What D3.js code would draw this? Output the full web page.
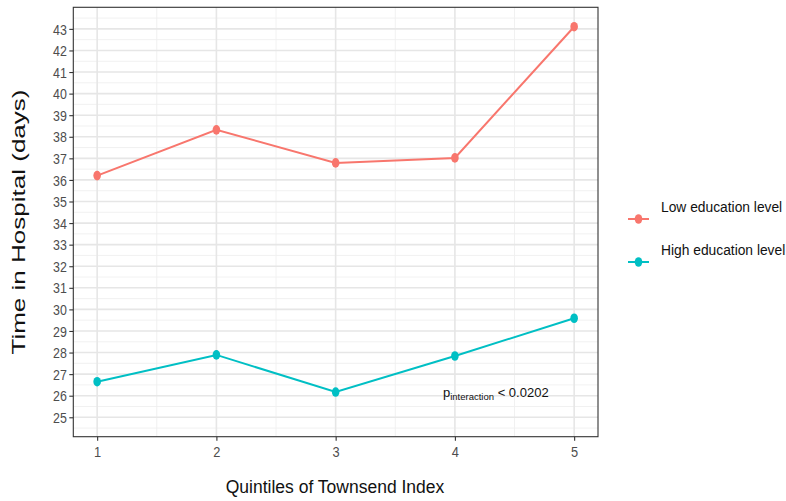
<!DOCTYPE html>
<html><head><meta charset="utf-8">
<script src="https://cdn.jsdelivr.net/npm/d3@7/dist/d3.min.js"></script>
<style>body{margin:0;background:#fff;} svg{display:block;font-family:"Liberation Sans",Arial,sans-serif;}</style>
</head><body>
<svg id="c" width="786" height="501"></svg>
<script>
const quintiles = [1, 2, 3, 4, 5];
const lowEducation = [36.2, 38.32, 36.79, 37.02, 43.1];
const highEducation = [26.65, 27.89, 26.17, 27.84, 29.59];
const seriesNames = ["Low education level", "High education level"];
const seriesColors = ["#F8766D", "#00BFC4"];
const yTicks = d3.range(25, 44);
const annotation = {main: "p", sub: "interaction", rest: " < 0.0202", x: 3.9, y: 25.95};

const svg = d3.select("#c");
const L = 73.3, R = 598, T = 7.3, B = 436.7;
const x = d3.scaleLinear().domain([0.8, 5.2]).range([L, R]);
const y = d3.scaleLinear().domain([24.1, 44.0]).range([B, T]);

const g = svg.append("g");
// minor grid
const minorY = d3.range(24.5, 44, 1);
g.selectAll(".my").data(minorY).join("line")
  .attr("x1", L).attr("x2", R).attr("y1", d => y(d)).attr("y2", d => y(d))
  .attr("stroke", "#efefef").attr("stroke-width", 0.9);
const minorX = [1.5, 2.5, 3.5, 4.5];
g.selectAll(".mx").data(minorX).join("line")
  .attr("y1", T).attr("y2", B).attr("x1", d => x(d)).attr("x2", d => x(d))
  .attr("stroke", "#efefef").attr("stroke-width", 0.9);
// major grid
g.selectAll(".gy").data(yTicks).join("line")
  .attr("x1", L).attr("x2", R).attr("y1", d => y(d)).attr("y2", d => y(d))
  .attr("stroke", "#e6e6e6").attr("stroke-width", 1.6);
g.selectAll(".gx").data(quintiles).join("line")
  .attr("y1", T).attr("y2", B).attr("x1", d => x(d)).attr("x2", d => x(d))
  .attr("stroke", "#e6e6e6").attr("stroke-width", 1.6);

// axes
const yAxis = svg.append("g").attr("transform", `translate(${L},0)`)
  .call(d3.axisLeft(y).tickValues(yTicks).tickSize(4).tickPadding(3).tickFormat(d3.format("d")));
const xAxis = svg.append("g").attr("transform", `translate(0,${B})`)
  .call(d3.axisBottom(x).tickValues(quintiles).tickSize(4).tickPadding(5).tickFormat(d3.format("d")));
[yAxis, xAxis].forEach(a => {
  a.select(".domain").remove();
  a.selectAll(".tick line").attr("stroke", "#333").attr("stroke-width", 1.1);
  a.selectAll(".tick text").attr("fill", "#4d4d4d").style("font-size", "13.5px")
    .style("font-family", "Liberation Sans, Arial, sans-serif");
});
yAxis.selectAll(".tick text").attr("dy", "0.36em").attr("transform", "scale(0.92,1.06)");
xAxis.selectAll(".tick text").attr("y", 8).attr("transform", "scale(0.95,1.15)");

// panel border
svg.append("rect").attr("x", L).attr("y", T).attr("width", R - L).attr("height", B - T)
  .attr("fill", "none").attr("stroke", "#333").attr("stroke-width", 1.1);

// series
const series = [lowEducation, highEducation];
const line = d3.line().x((d, i) => x(quintiles[i])).y(d => y(d));
series.forEach((vals, si) => {
  svg.append("path").datum(vals).attr("d", line).attr("fill", "none")
    .attr("stroke", seriesColors[si]).attr("stroke-width", 2);
  svg.selectAll(null).data(vals).join("ellipse")
    .attr("cx", (d, i) => x(quintiles[i])).attr("cy", d => y(d))
    .attr("rx", 3.8).attr("ry", 4.8).attr("fill", seriesColors[si]);
});

// annotation
const ann = svg.append("text").attr("x", x(annotation.x)).attr("y", y(annotation.y))
  .style("font-size", "13px").attr("fill", "#111");
ann.append("tspan").text(annotation.main);
ann.append("tspan").text(annotation.sub).style("font-size", "9.5px").attr("dy", 3);
ann.append("tspan").text(annotation.rest).attr("dy", -3);

// axis titles
svg.append("text").attr("x", 335).attr("y", 493).attr("text-anchor", "middle")
  .style("font-size", "17.5px").attr("fill", "#111").text("Quintiles of Townsend Index");
svg.append("text").attr("transform", "translate(25,222) rotate(-90)")
  .attr("text-anchor", "middle").style("font-size", "19px").attr("fill", "#111")
  .attr("textLength", 265).attr("lengthAdjust", "spacingAndGlyphs")
  .text("Time in Hospital (days)");

// legend
const legY = [219, 262];
seriesNames.forEach((n, i) => {
  const lg = svg.append("g");
  lg.append("line").attr("x1", 628).attr("x2", 649).attr("y1", legY[i]).attr("y2", legY[i])
    .attr("stroke", seriesColors[i]).attr("stroke-width", 2);
  lg.append("ellipse").attr("cx", 638.5).attr("cy", legY[i]).attr("rx", 3.8).attr("ry", 4.8)
    .attr("fill", seriesColors[i]);
  lg.append("text").attr("x", 661).attr("y", legY[i] - 7).style("font-size", "13.8px")
    .attr("fill", "#111").text(n);
});
</script>
</body></html>
